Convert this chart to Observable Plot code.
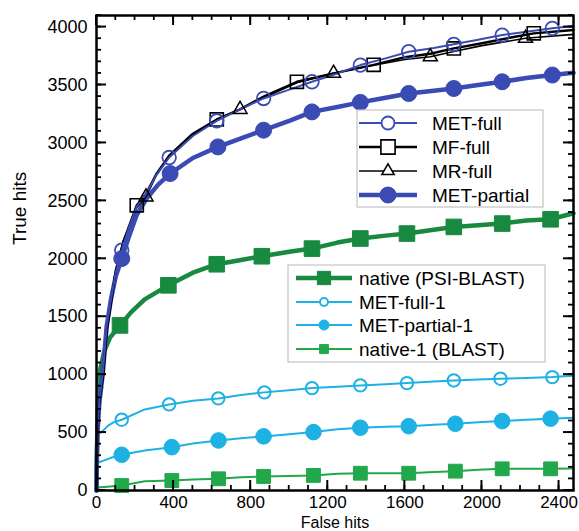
<!DOCTYPE html>
<html>
<head>
<meta charset="utf-8">
<script src="https://cdn.jsdelivr.net/npm/d3@7"></script>
<script src="https://cdn.jsdelivr.net/npm/@observablehq/plot@0.6"></script>
<style>
  html, body { margin: 0; padding: 0; background: white; }
  #chart svg { display: block; }
</style>
</head>
<body>
<div id="chart"></div>
<script>
// ---------- data ----------
const xMajorTicks = [0, 400, 800, 1200, 1600, 2000, 2400];
const yMajorTicks = [0, 500, 1000, 1500, 2000, 2500, 3000, 3500, 4000];
const xMinorTicks = d3.range(0, 2401, 100);
const yMinorTicks = d3.range(0, 4101, 100);

const metFullLine = [[0,0],[2,300],[5,520],[15,780],[32,1000],[53,1420],[75,1650],[100,1880],[131,2074],[170,2280],[209,2450],[257,2560],[310,2720],[377,2874],[500,3060],[624,3191],[745,3290],[867,3384],[1000,3460],[1118,3528],[1250,3600],[1369,3672],[1500,3730],[1620,3787],[1750,3820],[1854,3851],[1980,3890],[2105,3931],[2230,3960],[2365,3989],[2475,4010]];
const metFullMarks = [[131,2074],[377,2874],[624,3191],[867,3384],[1118,3528],[1369,3672],[1620,3787],[1854,3851],[2105,3931],[2365,3989]];

const mfFullLine = [[0,0],[2,280],[5,500],[15,760],[35,1000],[55,1400],[78,1650],[100,1900],[140,2150],[209,2462],[257,2560],[310,2730],[377,2890],[500,3080],[624,3203],[745,3290],[867,3400],[1040,3528],[1230,3601],[1438,3674],[1600,3740],[1732,3770],[1854,3816],[2000,3860],[2150,3910],[2269,3946],[2475,3975]];
const mfFullMarks = [[209,2462],[624,3203],[1040,3528],[1438,3674],[1854,3816],[2269,3946]];

const mrFullLine = [[0,0],[2,280],[5,500],[15,760],[35,1000],[55,1400],[78,1650],[100,1900],[140,2160],[209,2440],[257,2534],[310,2720],[377,2880],[500,3070],[624,3200],[745,3290],[867,3390],[1040,3520],[1230,3601],[1438,3670],[1600,3720],[1732,3744],[1854,3790],[2000,3840],[2226,3903],[2475,3937]];
const mrFullMarks = [[257,2534],[745,3290],[1230,3601],[1732,3744],[2226,3903]];

const metPartialLine = [[0,0],[2,280],[5,500],[15,760],[32,1000],[53,1420],[75,1650],[100,1850],[131,2002],[170,2200],[209,2380],[260,2520],[320,2640],[382,2736],[500,2870],[630,2966],[750,3040],[867,3110],[1000,3190],[1118,3268],[1250,3310],[1369,3350],[1500,3390],[1620,3427],[1750,3450],[1854,3470],[1980,3500],[2105,3528],[2230,3560],[2365,3586],[2475,3605]];
const metPartialMarks = [[131,2002],[382,2736],[630,2966],[867,3110],[1118,3268],[1369,3350],[1620,3427],[1854,3470],[2105,3528],[2365,3586]];

const nativeLine = [[0,0],[2,300],[5,600],[10,900],[20,1050],[40,1200],[70,1320],[122,1425],[180,1540],[250,1650],[373,1771],[500,1880],[624,1953],[750,1990],[858,2022],[1000,2060],[1118,2088],[1250,2140],[1369,2175],[1500,2200],[1611,2218],[1750,2250],[1854,2275],[1980,2290],[2105,2304],[2230,2330],[2356,2341],[2475,2393]];
const nativeMarks = [[122,1425],[373,1771],[624,1953],[858,2022],[1118,2088],[1369,2175],[1611,2218],[1854,2275],[2105,2304],[2356,2341]];

const metFull1Line = [[0,0],[1,380],[5,480],[30,510],[60,560],[90,590],[131,611],[250,700],[377,743],[500,775],[632,795],[750,825],[871,847],[1000,865],[1118,884],[1250,895],[1369,907],[1500,917],[1611,927],[1750,940],[1854,950],[1980,958],[2096,965],[2230,972],[2365,979],[2475,990]];
const metFull1Marks = [[131,611],[377,743],[632,795],[871,847],[1118,884],[1369,907],[1611,927],[1854,950],[2096,965],[2365,979]];

const metPartial1Line = [[0,0],[1,200],[5,240],[40,260],[80,285],[131,308],[250,345],[391,374],[500,405],[633,432],[750,450],[867,467],[1000,485],[1126,504],[1250,528],[1369,542],[1500,550],[1620,555],[1750,568],[1862,576],[1980,590],[2105,599],[2230,610],[2356,620],[2475,628]];
const metPartial1Marks = [[131,308],[391,374],[633,432],[867,467],[1126,504],[1369,542],[1620,555],[1862,576],[2105,599],[2356,620]];

const native1Line = [[0,0],[2,25],[40,30],[131,43],[250,80],[391,86],[500,95],[633,101],[750,115],[867,121],[1000,125],[1126,130],[1250,145],[1369,149],[1500,149],[1620,149],[1750,160],[1862,167],[1980,180],[2105,187],[2230,187],[2356,187],[2475,190]];
const native1Marks = [[131,43],[391,86],[633,101],[867,121],[1126,130],[1369,149],[1620,149],[1862,167],[2105,187],[2356,187]];

// ---------- styles ----------
const BLUE = "#3a4bb3", BLACK = "#000", DGREEN = "#188a40", CYAN = "#1eb1e4", LGREEN = "#21a84b";
const series = [
  {name: "native-1 (BLAST)", line: native1Line, marks: native1Marks, color: LGREEN, lw: 2, symbol: "square", filled: true, r: 7.8, sw: 1, lr: 5},
  {name: "MET-partial-1", line: metPartial1Line, marks: metPartial1Marks, color: CYAN, lw: 2, symbol: "circle", filled: true, r: 7.8, sw: 1, lr: 5},
  {name: "MET-full-1", line: metFull1Line, marks: metFull1Marks, color: CYAN, lw: 2, symbol: "circle", filled: false, r: 6.2, sw: 2, lr: 4},
  {name: "native (PSI-BLAST)", line: nativeLine, marks: nativeMarks, color: DGREEN, lw: 4.5, symbol: "square", filled: true, r: 8.8, sw: 1, lr: 7.5},
  {name: "MET-partial", line: metPartialLine, marks: metPartialMarks, color: BLUE, lw: 4.5, symbol: "circle", filled: true, r: 8, sw: 1, lr: 8},
  {name: "MR-full", line: mrFullLine, marks: mrFullMarks, color: BLACK, lw: 1.6, symbol: "triangle", filled: false, r: 5.2, sw: 1.5, lr: 4.6},
  {name: "MF-full", line: mfFullLine, marks: mfFullMarks, color: BLACK, lw: 2.4, symbol: "square", filled: false, r: 7.4, sw: 1.6, lr: 8},
  {name: "MET-full", line: metFullLine, marks: metFullMarks, color: BLUE, lw: 2, symbol: "circle", filled: false, r: 6.8, sw: 1.8, lr: 6.5}
];

const W = 579, H = 531, mL = 96, mR = 6, mT = 15, mB = 41;
const FONT = "'Liberation Sans', Arial, Helvetica, sans-serif";

const dataMarks = [];
for (const s of series) {
  dataMarks.push(Plot.line(s.line, {x: d => d[0], y: d => d[1], stroke: s.color, strokeWidth: s.lw, strokeLinejoin: "round"}));
}
for (const s of series) {
  dataMarks.push(Plot.dot(s.marks, {x: d => d[0], y: d => d[1], symbol: s.symbol, r: s.r,
    stroke: s.color, strokeWidth: s.sw, fill: s.filled ? s.color : "none"}));
}

const chart = Plot.plot({
  width: W, height: H,
  marginLeft: mL, marginRight: mR, marginTop: mT, marginBottom: mB,
  style: {fontFamily: FONT, fontSize: "18px", color: "black", background: "white", overflow: "visible"},
  x: {domain: [0, 2475]},
  y: {domain: [0, 4100]},
  marks: [
    ...dataMarks,
    Plot.axisX({ticks: xMajorTicks, tickSize: 0, tickPadding: 5, label: null, fontSize: 17, tickFormat: d3.format("d")}),
    Plot.axisY({ticks: yMajorTicks, tickSize: 0, tickPadding: 9, label: null, fontSize: 18, tickFormat: d3.format("d")}),
    Plot.text(["False hits"], {frameAnchor: "bottom", dy: 37, lineAnchor: "bottom", fontSize: 16, text: d => d}),
    Plot.text(["True hits"], {frameAnchor: "left", dx: -77, dy: -8, rotate: -90, fontSize: 19, text: d => d}),
    Plot.frame({stroke: "black", strokeWidth: 2.5})
  ]
});

document.getElementById("chart").appendChild(chart);

const svg = d3.select(chart);

// ---------- inward ticks on all four sides, positioned through Plot's scales ----------
const sx = chart.scale("x"), sy = chart.scale("y");
const frameLeft = mL, frameRight = W - mR, frameTop = mT, frameBottom = H - mB;
const tg = svg.append("g").attr("stroke", "black");
function tickX(v, len, w) {
  const px = sx.apply(v);
  tg.append("line").attr("x1", px).attr("x2", px).attr("y1", frameBottom).attr("y2", frameBottom - len).attr("stroke-width", w);
  tg.append("line").attr("x1", px).attr("x2", px).attr("y1", frameTop).attr("y2", frameTop + len).attr("stroke-width", w);
}
function tickY(v, len, w) {
  const py = sy.apply(v);
  tg.append("line").attr("y1", py).attr("y2", py).attr("x1", frameLeft).attr("x2", frameLeft + len).attr("stroke-width", w);
  tg.append("line").attr("y1", py).attr("y2", py).attr("x1", frameRight).attr("x2", frameRight - len).attr("stroke-width", w);
}
xMinorTicks.forEach(v => tickX(v, 5, 1.8));
xMajorTicks.forEach(v => tickX(v, 10, 2));
yMinorTicks.forEach(v => tickY(v, 5, 1.8));
yMajorTicks.forEach(v => tickY(v, 10, 2));

// ---------- legends ----------
const symMap = {circle: d3.symbolCircle, square: d3.symbolSquare, triangle: d3.symbolTriangle};
function drawLegend(box, entries, rowYs, lineX0, lineX1, textX) {
  const g = svg.append("g");
  g.append("rect").attr("x", box[0]).attr("y", box[1]).attr("width", box[2]).attr("height", box[3])
    .attr("fill", "white").attr("stroke", "#c4c4c4").attr("stroke-width", 1.2);
  entries.forEach((name, i) => {
    const s = series.find(t => t.name === name);
    const y = rowYs[i];
    g.append("line").attr("x1", lineX0).attr("x2", lineX1).attr("y1", y).attr("y2", y)
      .attr("stroke", s.color).attr("stroke-width", s.lw);
    g.append("path").attr("d", d3.symbol(symMap[s.symbol], s.lr * s.lr * Math.PI)())
      .attr("transform", `translate(${(lineX0 + lineX1) / 2},${y})`)
      .attr("fill", s.filled ? s.color : "white").attr("stroke", s.color).attr("stroke-width", s.sw);
    g.append("text").attr("x", textX).attr("y", y).attr("dy", "0.36em")
      .attr("text-anchor", "start")
      .attr("font-family", FONT).attr("font-size", 19).attr("fill", "black").text(name);
  });
}
drawLegend([357, 110, 186, 97], ["MET-full", "MF-full", "MR-full", "MET-partial"], [123, 147, 171, 195], 359, 417, 432);
drawLegend([288, 265, 257, 97], ["native (PSI-BLAST)", "MET-full-1", "MET-partial-1", "native-1 (BLAST)"], [278, 302, 325, 349], 296, 352, 359);
</script>
</body>
</html>
